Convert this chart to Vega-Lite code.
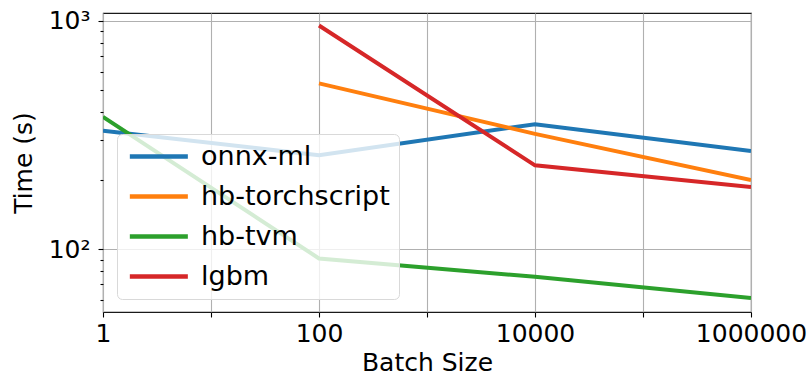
{
  "$schema": "https://vega.github.io/schema/vega-lite/v6.json",
  "width": 648,
  "height": 299,
  "autosize": {"type": "none"},
  "padding": {"left": 103, "top": 13, "right": 61, "bottom": 66},
  "background": "white",
  "config": {
    "font": "DejaVu Sans",
    "view": {"stroke": "#1a1a1a", "strokeWidth": 1.1}
  },
  "data": {
    "values": [
      {"model": "onnx-ml", "batch": 1, "time": 330},
      {"model": "onnx-ml", "batch": 100, "time": 258},
      {"model": "onnx-ml", "batch": 10000, "time": 353},
      {"model": "onnx-ml", "batch": 1000000, "time": 269},
      {"model": "hb-torchscript", "batch": 100, "time": 533},
      {"model": "hb-torchscript", "batch": 10000, "time": 320},
      {"model": "hb-torchscript", "batch": 1000000, "time": 201},
      {"model": "hb-tvm", "batch": 1, "time": 380},
      {"model": "hb-tvm", "batch": 100, "time": 91},
      {"model": "hb-tvm", "batch": 10000, "time": 75.6},
      {"model": "hb-tvm", "batch": 1000000, "time": 61},
      {"model": "lgbm", "batch": 100, "time": 955},
      {"model": "lgbm", "batch": 10000, "time": 233},
      {"model": "lgbm", "batch": 1000000, "time": 187}
    ]
  },
  "mark": {"type": "line", "strokeWidth": 4, "clip": true},
  "encoding": {
    "x": {
      "field": "batch",
      "type": "quantitative",
      "scale": {"type": "log", "domain": [1, 1000000], "nice": false},
      "axis": {
        "title": "Batch Size",
        "values": [1, 10, 100, 1000, 10000, 100000, 1000000],
        "labelExpr": "round(log(datum.value)/LN10) % 2 == 0 ? format(datum.value, 'd') : ''",
        "labelOverlap": false,
        "labelFlush": false,
        "labelFontSize": 25,
        "labelColor": "#000",
        "labelPadding": 4,
        "titleFontSize": 25,
        "titleFontWeight": "normal",
        "titleColor": "#000",
        "titlePadding": 4,
        "domain": false,
        "tickSize": 5,
        "tickColor": "#000",
        "tickWidth": 1.1,
        "grid": true,
        "gridColor": "#b0b0b0",
        "gridWidth": 1.1
      }
    },
    "y": {
      "field": "time",
      "type": "quantitative",
      "scale": {"type": "log", "domain": [53, 1084], "nice": false},
      "axis": {
        "title": "Time (s)",
        "values": [60, 70, 80, 90, 100, 200, 300, 400, 500, 600, 700, 800, 900, 1000],
        "labelExpr": "datum.value == 1000 ? '10³' : (datum.value == 100 ? '10²' : '')",
        "labelOverlap": false,
        "labelFlush": false,
        "labelFontSize": 25,
        "labelColor": "#000",
        "labelPadding": 8,
        "titleFontSize": 25,
        "titleFontWeight": "normal",
        "titleColor": "#000",
        "titlePadding": 12,
        "domain": false,
        "tickSize": {"condition": {"test": "datum.value == 100 || datum.value == 1000", "value": 5}, "value": 3},
        "tickColor": "#000",
        "tickWidth": 1.1,
        "grid": true,
        "gridColor": "#b0b0b0",
        "gridWidth": 1.1,
        "gridOpacity": {"condition": {"test": "datum.value == 100 || datum.value == 1000", "value": 1}, "value": 0}
      }
    },
    "color": {
      "field": "model",
      "type": "nominal",
      "scale": {
        "domain": ["onnx-ml", "hb-torchscript", "hb-tvm", "lgbm"],
        "range": ["#1f77b4", "#ff7f0e", "#2ca02c", "#d62728"]
      },
      "legend": {
        "title": null,
        "orient": "none",
        "legendX": 14,
        "legendY": 121,
        "padding": 9,
        "rowPadding": 12,
        "labelOffset": 48,
        "labelLimit": 400,
        "symbolType": "M-1,0H5",
        "symbolSize": 374,
        "symbolStrokeWidth": 4.5,
        "labelFontSize": 27,
        "labelColor": "#000",
        "fillColor": "rgba(255,255,255,0.8)",
        "strokeColor": "#d9d9d9",
        "cornerRadius": 5
      }
    }
  }
}
